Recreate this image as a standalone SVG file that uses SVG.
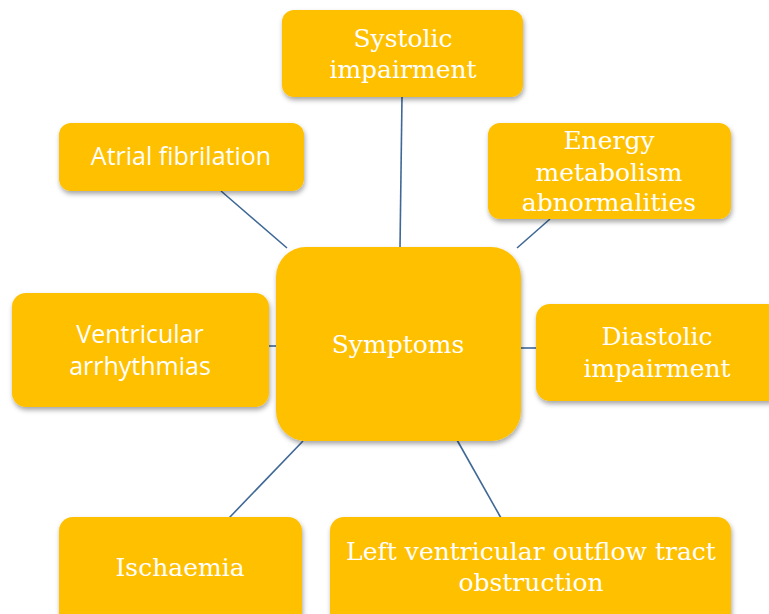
<svg xmlns="http://www.w3.org/2000/svg" width="769" height="614" viewBox="0 0 769 614">
  <defs>
    <filter id="sh" x="-10%" y="-10%" width="120%" height="130%">
      <feDropShadow dx="1" dy="3" stdDeviation="2.5" flood-color="#000000" flood-opacity="0.35"/>
    </filter>
    <style>
      .box { fill: #FFC000; filter: url(#sh); }
      .serif { font-family: "DejaVu Serif", "Liberation Serif", serif; font-size: 25px; fill: #FFFFFF; text-anchor: middle; }
      .sans { font-family: "Open Sans", "Liberation Sans", sans-serif; font-size: 25px; fill: #FFFFFF; text-anchor: middle; }
      .conn line { stroke: #3F6896; stroke-width: 1.6; }
    </style>
  </defs>
  <rect width="769" height="614" fill="#FFFFFF"/>
  <g id="connectors" class="conn">
    <line x1="402" y1="97" x2="400" y2="248"/>
    <line x1="221" y1="191" x2="287" y2="248"/>
    <line x1="550" y1="219" x2="517" y2="248"/>
    <line x1="269" y1="346" x2="277" y2="346"/>
    <line x1="520" y1="348" x2="536" y2="348"/>
    <line x1="303" y1="441" x2="229" y2="518"/>
    <line x1="457" y1="440" x2="501" y2="518"/>
  </g>
  <g id="systolic">
    <rect class="box" x="282" y="10" width="241" height="87" rx="12"/>
    <text class="serif" x="403" y="47">Systolic</text>
    <text class="serif" x="403" y="78">impairment</text>
  </g>
  <g id="atrial">
    <rect class="box" x="59" y="123" width="245" height="68" rx="12"/>
    <text class="sans" x="181" y="165">Atrial fibrilation</text>
  </g>
  <g id="energy">
    <rect class="box" x="488" y="123" width="243" height="96" rx="12"/>
    <text class="serif" x="609" y="149">Energy</text>
    <text class="serif" x="609" y="181">metabolism</text>
    <text class="serif" x="609" y="211">abnormalities</text>
  </g>
  <g id="symptoms">
    <rect class="box" x="276" y="247" width="245" height="194" rx="30"/>
    <text class="serif" x="398" y="353">Symptoms</text>
  </g>
  <g id="ventricular">
    <rect class="box" x="12" y="293" width="257" height="114" rx="14"/>
    <text class="sans" x="140" y="343">Ventricular</text>
    <text class="sans" x="140" y="375">arrhythmias</text>
  </g>
  <g id="diastolic">
    <rect class="box" x="536" y="304" width="245" height="97" rx="14"/>
    <text class="serif" x="657" y="345">Diastolic</text>
    <text class="serif" x="657" y="377">impairment</text>
  </g>
  <g id="ischaemia">
    <rect class="box" x="59" y="517" width="243" height="110" rx="14"/>
    <text class="serif" x="180" y="576">Ischaemia</text>
  </g>
  <g id="lvot">
    <rect class="box" x="330" y="517" width="401" height="110" rx="14"/>
    <text class="serif" x="531" y="560">Left ventricular outflow tract</text>
    <text class="serif" x="531" y="591">obstruction</text>
  </g>
</svg>
